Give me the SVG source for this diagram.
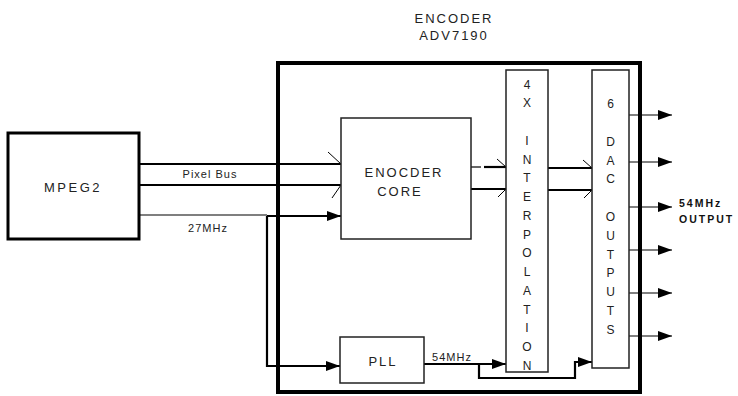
<svg xmlns="http://www.w3.org/2000/svg" width="738" height="396" viewBox="0 0 738 396">
<defs>
<marker id="ah" viewBox="0 0 14 10" refX="14" refY="5" markerWidth="14" markerHeight="10" markerUnits="userSpaceOnUse" orient="auto">
<path d="M0,0 L14,5 L0,10 Z" fill="#000"/>
</marker>
</defs>
<style>
.t{font-family:"Liberation Sans",Arial,sans-serif;font-size:12px;fill:#222;text-anchor:middle;dominant-baseline:central;letter-spacing:1px}
.v{font-family:"Liberation Sans",Arial,sans-serif;font-size:12px;fill:#222;text-anchor:middle;dominant-baseline:central}
.b{font-family:"Liberation Sans",Arial,sans-serif;font-size:10.5px;font-weight:bold;fill:#111;letter-spacing:2px}
.box{fill:#fff;stroke:#222;stroke-width:1.5}
.w{fill:none;stroke:#000;stroke-width:2.2}
.th{fill:none;stroke:#000;stroke-width:1.2}
.barb{fill:none;stroke:#000;stroke-width:1}
</style>
<rect width="738" height="396" fill="#fff"/>
<g id="connectors">
<line class="w" x1="139" y1="164" x2="341" y2="164"/>
<line class="w" x1="139" y1="185" x2="341" y2="185"/>
<path class="barb" d="M328,152 L341,164"/>
<path class="barb" d="M341,185 L332,198"/>
<line class="th" x1="139" y1="215" x2="267" y2="215"/>
<line class="w" x1="267" y1="216" x2="341" y2="216" marker-end="url(#ah)"/>
<path class="w" d="M267,216 L267,366 L340,366" marker-end="url(#ah)"/>
<line class="th" x1="471" y1="167" x2="481" y2="167"/>
<line class="w" x1="484" y1="167" x2="506" y2="167"/>
<line class="w" x1="471" y1="189" x2="506" y2="189"/>
<path class="barb" d="M497,159 L506,167"/>
<path class="barb" d="M506,189 L498,197"/>
<line class="w" x1="548" y1="168" x2="592" y2="168"/>
<line class="w" x1="548" y1="190" x2="592" y2="190"/>
<path class="barb" d="M583,160 L592,168"/>
<path class="barb" d="M592,190 L584,198"/>
<line class="w" x1="424" y1="364" x2="506" y2="364" marker-end="url(#ah)"/>
<path class="w" d="M479,364 L479,378 L575,378 L575,362 L592,362" marker-end="url(#ah)"/>
<g class="out">
<line class="th" x1="629" y1="115" x2="672" y2="115" marker-end="url(#ah)"/>
<line class="th" x1="629" y1="162" x2="672" y2="162" marker-end="url(#ah)"/>
<line class="th" x1="629" y1="207" x2="672" y2="207" marker-end="url(#ah)"/>
<line class="th" x1="629" y1="250" x2="672" y2="250" marker-end="url(#ah)"/>
<line class="th" x1="629" y1="293" x2="672" y2="293" marker-end="url(#ah)"/>
<line class="th" x1="629" y1="336" x2="672" y2="336" marker-end="url(#ah)"/>
</g>
<text class="t" x="210" y="174" style="font-size:11px">Pixel Bus</text>
<text class="t" x="208" y="228" style="font-size:11px">27MHz</text>
<text class="t" x="452" y="357" style="font-size:11px">54MHz</text>
</g>
<g id="encoder">
<rect x="278" y="63" width="362" height="329" fill="none" stroke="#000" stroke-width="4"/>
<text class="t" x="454" y="18" style="font-size:13px;letter-spacing:2px">ENCODER</text>
<text class="t" x="454" y="35" style="font-size:13px;letter-spacing:2px">ADV7190</text>
</g>
<g id="mpeg2">
<rect x="8" y="133" width="131" height="106" fill="#fff" stroke="#000" stroke-width="3"/>
<text class="t" x="73" y="187" style="font-size:13px;letter-spacing:2.5px">MPEG2</text>
</g>
<g id="core">
<rect class="box" x="341" y="118" width="130" height="121"/>
<text class="t" x="404" y="172" style="font-size:13px;letter-spacing:2px">ENOCDER</text>
<text class="t" x="400" y="191" style="font-size:13px;letter-spacing:2px">CORE</text>
</g>
<g id="pll">
<rect class="box" x="340" y="337" width="84" height="46"/>
<text class="t" x="383" y="361" style="font-size:13px;letter-spacing:2px">PLL</text>
</g>
<g id="interp">
<rect class="box" x="506" y="70" width="42" height="302"/>
<text class="v" x="527" y="84.5">4</text>
<text class="v" x="527" y="103.3">X</text>
<text class="v" x="527" y="140.8">I</text>
<text class="v" x="527" y="159.5">N</text>
<text class="v" x="527" y="178.3">T</text>
<text class="v" x="527" y="197">E</text>
<text class="v" x="527" y="215.8">R</text>
<text class="v" x="527" y="234.5">P</text>
<text class="v" x="527" y="253.3">O</text>
<text class="v" x="527" y="272">L</text>
<text class="v" x="527" y="290.8">A</text>
<text class="v" x="527" y="309.5">T</text>
<text class="v" x="527" y="328.3">I</text>
<text class="v" x="527" y="347">O</text>
<text class="v" x="527" y="365.8">N</text>
</g>
<g id="dac">
<rect class="box" x="592" y="70" width="37" height="298"/>
<text class="v" x="610.5" y="104">6</text>
<text class="v" x="610.5" y="142">D</text>
<text class="v" x="610.5" y="160.5">A</text>
<text class="v" x="610.5" y="179">C</text>
<text class="v" x="610.5" y="217">O</text>
<text class="v" x="610.5" y="236">U</text>
<text class="v" x="610.5" y="254.5">T</text>
<text class="v" x="610.5" y="273">P</text>
<text class="v" x="610.5" y="292">U</text>
<text class="v" x="610.5" y="310.5">T</text>
<text class="v" x="610.5" y="329.5">S</text>
<text class="b" x="679" y="207">54MHz</text>
<text class="b" x="679" y="223">OUTPUT</text>
</g>
</svg>
